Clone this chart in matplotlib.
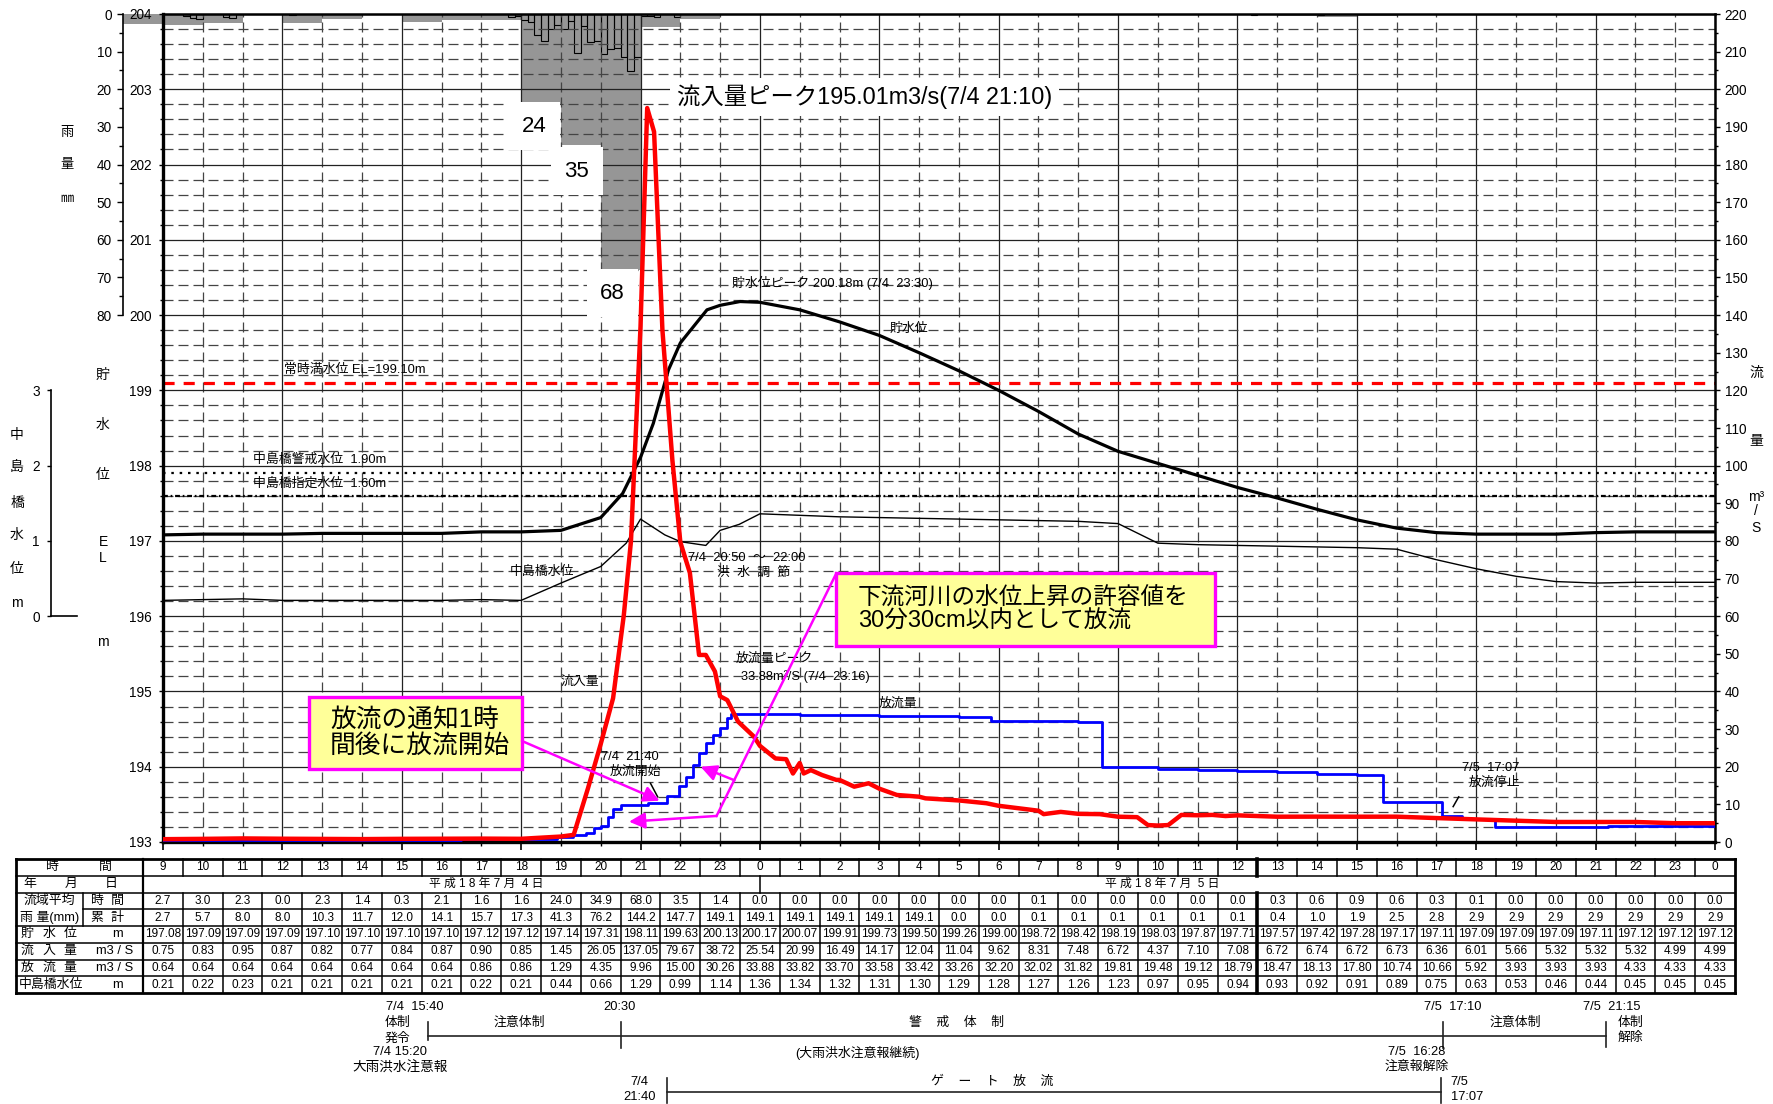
import numpy as np
import matplotlib.pyplot as plt
from matplotlib.patches import Rectangle
from matplotlib.transforms import blended_transform_factory

plt.rcParams['font.family'] = ['Liberation Sans', 'Noto Sans CJK JP', 'DejaVu Sans']
plt.rcParams['lines.scale_dashes'] = False
plt.rcParams['axes.unicode_minus'] = False

W, H = 1773, 1104

# ---- 表の値 (7/4 9時 ～ 7/6 0時, 7/4 0時からの時間) ----
hours = list(range(9, 49))
hour_labels = [str(h % 24) for h in hours]
rain_hour = [2.7, 3.0, 2.3, 0.0, 2.3, 1.4, 0.3, 2.1, 1.6, 1.6, 24.0, 34.9, 68.0, 3.5, 1.4,
             0.0, 0.0, 0.0, 0.0, 0.0, 0.0, 0.0, 0.1, 0.0, 0.0, 0.0, 0.0, 0.0,
             0.3, 0.6, 0.9, 0.6, 0.3, 0.1, 0.0, 0.0, 0.0, 0.0, 0.0, 0.0]
rain_cum = [2.7, 5.7, 8.0, 8.0, 10.3, 11.7, 12.0, 14.1, 15.7, 17.3, 41.3, 76.2, 144.2, 147.7, 149.1,
            149.1, 149.1, 149.1, 149.1, 149.1, 0.0, 0.0, 0.1, 0.1, 0.1, 0.1, 0.1, 0.1,
            0.4, 1.0, 1.9, 2.5, 2.8, 2.9, 2.9, 2.9, 2.9, 2.9, 2.9, 2.9]
res_level = [197.08, 197.09, 197.09, 197.09, 197.10, 197.10, 197.10, 197.10, 197.12, 197.12,
             197.14, 197.31, 198.11, 199.63, 200.13,
             200.17, 200.07, 199.91, 199.73, 199.50, 199.26, 199.00, 198.72, 198.42, 198.19,
             198.03, 197.87, 197.71,
             197.57, 197.42, 197.28, 197.17, 197.11, 197.09, 197.09, 197.09, 197.11, 197.12,
             197.12, 197.12]
inflow = [0.75, 0.83, 0.95, 0.87, 0.82, 0.77, 0.84, 0.87, 0.90, 0.85, 1.45, 26.05, 137.05, 79.67, 38.72,
          25.54, 20.99, 16.49, 14.17, 12.04, 11.04, 9.62, 8.31, 7.48, 6.72, 4.37, 7.10, 7.08,
          6.72, 6.74, 6.72, 6.73, 6.36, 6.01, 5.66, 5.32, 5.32, 5.32, 4.99, 4.99]
outflow = [0.64, 0.64, 0.64, 0.64, 0.64, 0.64, 0.64, 0.64, 0.86, 0.86, 1.29, 4.35, 9.96, 15.00, 30.26,
           33.88, 33.82, 33.70, 33.58, 33.42, 33.26, 32.20, 32.02, 31.82, 19.81, 19.48, 19.12, 18.79,
           18.47, 18.13, 17.80, 10.74, 10.66, 5.92, 3.93, 3.93, 3.93, 4.33, 4.33, 4.33]
nakajima = [0.21, 0.22, 0.23, 0.21, 0.21, 0.21, 0.21, 0.21, 0.22, 0.21, 0.44, 0.66, 1.29, 0.99, 1.14,
            1.36, 1.34, 1.32, 1.31, 1.30, 1.29, 1.28, 1.27, 1.26, 1.23, 0.97, 0.95, 0.94,
            0.93, 0.92, 0.91, 0.89, 0.75, 0.63, 0.53, 0.46, 0.44, 0.45, 0.45, 0.45]

# ---- グラフから読んだ追加の点 ----
res_extra_t = [20.55, 21.32, 21.70, 22.67, 23.5]
res_extra_v = [197.63, 198.56, 199.27, 200.07, 200.18]
nk_extra_t = [20.64, 21.61, 22.64, 23.48]
nk_extra_v = [0.97, 1.08, 0.94, 1.22]
in_extra_t = [19.32, 19.68, 20.31, 20.58, 20.76, 21.167, 21.34, 21.55, 21.80, 22.24, 22.47, 22.64,
              22.87, 23.18, 23.45, 23.85, 24.39, 24.66, 24.83, 25.1, 25.28, 25.56, 25.92, 26.37,
              26.73, 27.44, 28.16, 29.69, 31.13, 31.56, 32.54, 33.48, 33.75, 34.26, 34.59, 35.37, 35.7]
in_extra_q = [1.9, 14.3, 38.2, 60.3, 80.0, 195.01, 188.7, 136.0, 101.5, 71.5, 49.7, 49.7,
              45.3, 37.7, 32.0, 28.0, 22.2, 22.0, 18.2, 18.2, 19.1, 17.8, 16.5, 14.7,
              15.6, 12.5, 11.6, 10.3, 7.4, 8.0, 7.4, 6.6, 4.5, 4.5, 7.2, 7.2, 6.9]
# 放流量 (階段状)
out_t = [9, 16.5, 18.9, 19.3, 19.64, 19.82, 20.0, 20.18, 20.3, 20.5, 21.2, 21.66, 21.96, 22.14,
         22.32, 22.46, 22.64, 22.82, 23.0, 23.18, 23.27, 25, 26, 27, 28, 29, 29.81, 31, 32, 32.6,
         33, 34, 35, 36, 37, 38, 39, 39.65, 41.14, 41.64, 42.48, 45.3, 48]
out_q = [0.64, 0.86, 1.29, 1.9, 2.5, 3.6, 4.35, 6.7, 8.7, 9.96, 10.3, 12.2, 15.0, 17.4,
         20.5, 23.6, 26.2, 28.4, 30.26, 32.9, 33.88, 33.82, 33.70, 33.58, 33.42, 33.26, 32.20,
         32.02, 31.82, 19.95, 19.81, 19.48, 19.12, 18.79, 18.47, 18.13, 17.80, 10.74, 7.0, 6.2,
         3.93, 4.33, 4.33]
# 10分雨量 (開始時刻, mm)
r10_t = [9.5, 9.667, 9.833, 10.5, 10.667, 12.167, 17.667, 17.833,
         18.0, 18.167, 18.333, 18.5, 18.667, 18.833, 19.0, 19.167, 19.333, 19.5, 19.667, 19.833,
         20.0, 20.167, 20.333, 20.5, 20.667, 20.833, 21.0, 21.167, 21.333, 21.833, 36.333, 38.0]
r10_v = [0.6, 1.1, 1.3, 0.9, 1.0, 0.3, 0.8, 0.4,
         1.5, 2.1, 5.7, 7.3, 3.9, 3.0, 3.9, 1.9, 10.4, 3.3, 7.5, 7.3,
         10.7, 9.2, 9.0, 11.3, 15.2, 11.3, 0.4, 0.6, 0.9, 0.9, 0.2, 0.3]


def merged(t1, v1, t2, v2):
    t = np.r_[t1, t2]
    v = np.r_[v1, v2]
    o = np.argsort(t, kind='stable')
    return t[o], v[o]


res_t, res_v = merged(hours, res_level, res_extra_t, res_extra_v)
nk_t, nk_v = merged(hours, nakajima, nk_extra_t, nk_extra_v)
in_t, in_q = merged(hours, inflow, in_extra_t, in_extra_q)

fig = plt.figure(figsize=(W / 100, H / 100), dpi=100)
rect = [163 / W, 1 - 842 / H, 1552 / W, 828 / H]


def ftxt(x, y, s, **kw):
    kw.setdefault('ha', 'center')
    kw.setdefault('va', 'center')
    fig.text(x / W, 1 - y / H, s, **kw)


# ---- 雨量 (上から) ----
ax_rain = fig.add_axes(rect, label='rain', zorder=0)
ax_rain.set_xlim(9, 48)
ax_rain.set_ylim(220, 0)
ax_rain.bar(np.array(hours) - 0.5, rain_hour, width=1.0, color='#969696', clip_on=False, zorder=1)
ax_rain.bar(np.array(r10_t) + 1 / 12, r10_v, width=1 / 6, facecolor='none', edgecolor='k',
            lw=0.8, zorder=2)
for s in ['top', 'right', 'bottom']:
    ax_rain.spines[s].set_visible(False)
ax_rain.spines['left'].set_position(('axes', (122.7 - 163) / 1552))
ax_rain.spines['left'].set_bounds(0, 80)
ax_rain.spines['left'].set_linewidth(1.2)
ax_rain.set_xticks([])
ax_rain.set_yticks(range(0, 81, 10))
ax_rain.set_yticks(range(5, 80, 10), minor=True)
ax_rain.tick_params(axis='y', which='major', length=4.3, width=1, labelsize=9.8, pad=3.5)
ax_rain.tick_params(axis='y', which='minor', length=2.8, width=1)

# ---- 貯水位 (主軸) ----
ax = fig.add_axes(rect, label='main', zorder=1)
ax.patch.set_visible(False)
ax.set_xlim(9, 48)
ax.set_ylim(193, 204)
ax.set_xticks(np.arange(9, 49, 3))
ax.set_xticks(np.arange(9, 49, 1), minor=True)
ax.set_yticks(np.arange(193, 205))
ax.set_yticks(np.round(np.arange(193, 204.01, 0.2), 1), minor=True)
ax.tick_params(axis='x', which='major', length=5.5, width=1.2, labelbottom=False)
ax.tick_params(axis='x', which='minor', length=3, width=1)
ax.tick_params(axis='y', which='major', length=3, width=1, labelsize=9.8, pad=5)
ax.tick_params(axis='y', which='minor', length=2.2, width=1)
ax.grid(which='major', color='#222222', lw=0.9, ls='-')
ax.grid(which='minor', color='#444444', lw=0.9, ls=(0, (7.2, 3.6)))
ax.spines['left'].set_linewidth(2.4)
ax.spines['bottom'].set_linewidth(2.4)
ax.spines['top'].set_linewidth(1.8)
ax.spines['right'].set_visible(False)

ax.axhline(199.10, color='#FF0000', lw=2.3, ls=(0, (8, 6.5)), zorder=2)
ax.axhline(197.90, color='k', lw=1.6, ls=(0, (1.8, 4.2)), zorder=2)
ax.axhline(197.60, color='k', lw=1.6, ls=(0, (3.5, 2, 1.2, 2)), zorder=2)
ax.plot(res_t, res_v, color='k', lw=2.3, zorder=3)

small = dict(fontsize=9.3, ha='left', va='center', zorder=4)
ax.text(23.30, 200.43, '貯水位ピーク 200.18m (7/4  23:30)', **small)
ax.text(27.27, 199.815, '貯水位', **small)
ax.text(12.04, 199.27, '常時満水位 EL=199.10m', **small)
ax.text(11.26, 198.075, '中島橋警戒水位  1.90m', **small)
ax.text(11.26, 197.756, '中島橋指定水位  1.60m', **small)
ax.text(17.72, 196.59, '中島橋水位', **small)
ax.text(22.19, 196.773, '7/4  20:50  ～  22:00', **small)
ax.text(22.92, 196.574, '洪  水  調  節', **small)
ax.text(23.40, 195.431, '放流量ピーク', **small)
ax.text(23.52, 195.191, '33.88m³/S (7/4  23:16)', **small)
ax.text(19.0, 195.125, '流入量', **small)
ax.text(26.99, 194.833, '放流量', **small)
ax.text(20.0, 194.133, '7/4  21:40', **small)
ax.text(20.23, 193.934, '放流開始', **small)
ax.text(41.64, 193.983, '7/5  17:07', **small)
ax.text(41.81, 193.784, '放流停止', **small)
ax.plot([21.25, 21.43], [193.78, 193.60], color='k', lw=1.1, zorder=4)
ax.plot([41.42, 41.56], [193.47, 193.60], color='k', lw=1.1, zorder=4)

wbox = dict(boxstyle='square,pad=0.6', fc='white', ec='none')
for xh, yl, s in [(18.32, 202.512, '24'), (19.40, 201.914, '35'), (20.29, 200.293, '68')]:
    ax.text(xh, yl, s, fontsize=16, ha='center', va='center', bbox=wbox, zorder=5)
ax.text(21.915, 202.897, '流入量ピーク195.01m3/s(7/4 21:10)', fontsize=16.8, ha='left', va='center',
        bbox=dict(boxstyle='square,pad=0.3', fc='white', ec='none'), zorder=5)

# ---- 中島橋水位 (外側左軸) ----
ax_nk = ax.twinx()
ax_nk.set_zorder(2)
ax_nk.patch.set_visible(False)
ax_nk.set_ylim(-3, 8)
ax_nk.yaxis.tick_left()
for s in ['top', 'right', 'bottom']:
    ax_nk.spines[s].set_visible(False)
ax_nk.spines['left'].set_position(('axes', (50.7 - 163) / 1552))
ax_nk.spines['left'].set_bounds(0, 3)
ax_nk.spines['left'].set_linewidth(1.2)
ax_nk.set_yticks([0, 1, 2, 3])
ax_nk.tick_params(axis='y', length=3, width=1, labelsize=9.8, pad=4.8)
trans_nk = blended_transform_factory(ax_nk.transAxes, ax_nk.transData)
ax_nk.plot([(50.7 - 163) / 1552, (76.7 - 163) / 1552], [0, 0], color='k', lw=1.2,
           transform=trans_nk, clip_on=False)
ax_nk.plot(nk_t, nk_v, color='k', lw=1.0)

# ---- 流量 (右軸) ----
ax_flow = ax.twinx()
ax_flow.set_zorder(3)
ax_flow.patch.set_visible(False)
ax_flow.set_ylim(0, 220)
ax_flow.set_yticks(range(0, 221, 10))
ax_flow.set_yticks(range(5, 220, 10), minor=True)
ax_flow.tick_params(axis='y', which='major', length=3.5, width=1, labelsize=9.8, pad=3.5)
ax_flow.tick_params(axis='y', which='minor', length=2.2, width=1)
for s in ['top', 'left', 'bottom']:
    ax_flow.spines[s].set_visible(False)
ax_flow.spines['right'].set_linewidth(1.8)
ax_flow.step(out_t, out_q, where='post', color='#0000FF', lw=2.0, zorder=3)
ax_flow.plot(in_t, in_q, color='#FF0000', lw=3.2, zorder=4)

# 黄色の吹き出し
mag = '#FF00FF'
ax_flow.add_patch(Rectangle((12.67, 193.970), 5.35, 0.956, transform=ax.transData,
                            fc='#FFFF99', ec=mag, lw=2.4, zorder=6))
ax_flow.text(13.20, 194.455, '放流の通知1時\n間後に放流開始', transform=ax.transData, fontsize=18.5,
             ha='left', va='center', linespacing=1.1, zorder=7)
ax_flow.add_patch(Rectangle((25.91, 195.604), 9.52, 0.970, transform=ax.transData,
                            fc='#FFFF99', ec=mag, lw=2.4, zorder=6))
ax_flow.text(26.46, 196.082, '下流河川の水位上昇の許容値を\n30分30cm以内として放流', transform=ax.transData,
             fontsize=17, ha='left', va='center', linespacing=1.02, zorder=7)
arrow = dict(arrowstyle='-|>', color=mag, lw=1.8, mutation_scale=24, shrinkA=0, shrinkB=0)
ax_flow.annotate('', xy=(21.48, 193.549), xytext=(18.02, 194.342), xycoords=ax.transData,
                 textcoords=ax.transData, arrowprops=arrow, zorder=6)
ax_flow.plot([25.92, 22.91], [196.57, 193.346], color=mag, lw=1.8, transform=ax.transData, zorder=6)
ax_flow.annotate('', xy=(20.71, 193.27), xytext=(22.91, 193.346), xycoords=ax.transData,
                 textcoords=ax.transData, arrowprops=arrow, zorder=6)
ax_flow.annotate('', xy=(22.51, 194.0), xytext=(23.36, 193.82), xycoords=ax.transData,
                 textcoords=ax.transData, arrowprops=arrow, zorder=6)

# ---- 軸ラベル (縦書き) ----
for y, s in [(133, '雨'), (165, '量'), (199, '㎜')]:
    ftxt(67, y, s, fontsize=9.5)
for y, s in [(375, '貯'), (425, '水'), (475, '位'), (542, 'E'), (558, 'L'), (642, 'm')]:
    ftxt(103, y, s, fontsize=10)
for y, s in [(435, '中'), (468, '島'), (503, '橋'), (535, '水'), (569, '位'), (603, 'm')]:
    ftxt(17, y, s, fontsize=10)
for y, s in [(373, '流'), (441, '量'), (497, 'm³'), (511, '/'), (528, 'S')]:
    ftxt(1756, y, s, fontsize=10)


# ---- 表 ----
def px2h(p):
    return 9 + (p - 163) / 39.8


ax_t = fig.add_axes([16 / W, 1 - 993 / H, 1719 / W, 134 / H], label='table')
ax_t.set_xlim(px2h(16), 48.5)
ax_t.set_ylim(8, 0)
ax_t.axis('off')
x0, x1, xs, xl = px2h(16), 48.5, px2h(83), 8.5


def hl(y, a, b, lw=1.1):
    ax_t.plot([a, b], [y, y], color='k', lw=lw, clip_on=False, solid_capstyle='projecting')


def vl(x, a, b, lw=1.1):
    ax_t.plot([x, x], [a, b], color='k', lw=lw, clip_on=False, solid_capstyle='projecting')


for y in [1, 2, 4, 5, 6, 7]:
    hl(y, x0, x1)
hl(3, xs, x1)
hl(0, x0, x1, 2)
hl(8, x0, x1, 2)
vl(x0, 0, 8, 2)
vl(x1, 0, 8, 2)
vl(xl, 0, 8, 1.6)
vl(xs, 2, 4)
for c in np.arange(9.5, 48, 1):
    vl(c, 0, 1)
    vl(c, 2, 8)
vl(36.5, 0, 1, 2.6)
vl(36.5, 2, 8, 2.6)
vl(24, 1, 2)

cell = dict(fontsize=8.5, ha='center', va='center')
for i, h in enumerate(hours):
    ax_t.text(h, 0.5, hour_labels[i], **cell)
    ax_t.text(h, 2.5, f'{rain_hour[i]:.1f}', **cell)
    ax_t.text(h, 3.5, f'{rain_cum[i]:.1f}', **cell)
    ax_t.text(h, 4.5, f'{res_level[i]:.2f}', **cell)
    ax_t.text(h, 5.5, f'{inflow[i]:.2f}', **cell)
    ax_t.text(h, 6.5, f'{outflow[i]:.2f}', **cell)
    ax_t.text(h, 7.5, f'{nakajima[i]:.2f}', **cell)
ax_t.text(17.12, 1.5, '平 成 1 8 年 7 月  4 日', **cell)
ax_t.text(34.10, 1.5, '平 成 1 8 年 7 月  5 日', **cell)

lab = dict(fontsize=9.3, ha='center', va='center')
for p, s in [(51, '時'), (105, '間')]:
    ax_t.text(px2h(p), 0.5, s, **lab)
for p, s in [(30, '年'), (71, '月'), (111, '日')]:
    ax_t.text(px2h(p), 1.5, s, **lab)
ax_t.text(px2h(49.5), 2.5, '流域平均', **lab)
ax_t.text(px2h(50), 3.5, '雨 量(mm)', **lab)
ax_t.text(px2h(107.6), 2.5, '時  間', **lab)
ax_t.text(px2h(107.6), 3.5, '累  計', **lab)
for row, chars, unit in [(4, '貯水位', 'm'), (5, '流入量', 'm3 / S'), (6, '放流量', 'm3 / S')]:
    for p, ch in zip([27, 49, 70], chars):
        ax_t.text(px2h(p), row + 0.5, ch, **lab)
    ax_t.text(px2h(117 if unit == 'm' else 115), row + 0.5, unit, **lab)
ax_t.text(px2h(50.5), 7.5, '中島橋水位', **lab)
ax_t.text(px2h(117), 7.5, 'm', **lab)

# ---- 下の体制・ゲート放流 ----
ax_b = fig.add_axes([163 / W, 0, 1552 / W, (H - 993) / H], label='bottom')
ax_b.set_xlim(9, 48)
ax_b.set_ylim(H, 993)
ax_b.axis('off')
bl = dict(color='#222222', lw=1.2, clip_on=False)
ax_b.plot([15.667, 45.25], [1036, 1036], **bl)
ax_b.plot([15.667, 15.667], [1021.7, 1040], **bl)
ax_b.plot([20.5, 20.5], [1021.7, 1048.3], **bl)
ax_b.plot([41.167, 41.167], [1021.7, 1048.3], **bl)
ax_b.plot([45.25, 45.25], [1021.7, 1046.7], **bl)
ax_b.plot([21.667, 41.117], [1091.7, 1091.7], **bl)
ax_b.plot([21.667, 21.667], [1078, 1103], **bl)
ax_b.plot([41.117, 41.117], [1078, 1103], **bl)

bt = dict(fontsize=9.3, ha='center', va='center')
ax_b.text(15.33, 1006.7, '7/4  15:40', **bt)
ax_b.text(14.89, 1023, '体制', **bt)
ax_b.text(14.89, 1039, '発令', **bt)
ax_b.text(17.96, 1023, '注意体制', **bt)
ax_b.text(20.48, 1006.7, '20:30', **bt)
ax_b.text(14.95, 1051.7, '7/4 15:20', **bt)
ax_b.text(14.95, 1068, '大雨洪水注意報', fontsize=9.8, ha='center', va='center')
ax_b.text(28.94, 1023, '警    戒    体    制', **bt)
ax_b.text(26.44, 1053, '(大雨洪水注意報継続)', **bt)
ax_b.text(20.97, 1081.7, '7/4', **bt)
ax_b.text(20.97, 1096.7, '21:40', **bt)
ax_b.text(29.83, 1081.7, 'ゲ    ー    ト    放    流', **bt)
ax_b.text(41.41, 1006.7, '7/5  17:10', **bt)
ax_b.text(42.98, 1023, '注意体制', **bt)
ax_b.text(45.41, 1006.7, '7/5  21:15', **bt)
ax_b.text(45.88, 1023, '体制', **bt)
ax_b.text(45.88, 1038, '解除', **bt)
ax_b.text(40.50, 1051.7, '7/5  16:28', **bt)
ax_b.text(40.50, 1066.7, '注意報解除', **bt)
ax_b.text(41.36, 1081.7, '7/5', fontsize=9.3, ha='left', va='center')
ax_b.text(41.36, 1096.7, '17:07', fontsize=9.3, ha='left', va='center')

fig.savefig('out.png', dpi=100, facecolor='white')
